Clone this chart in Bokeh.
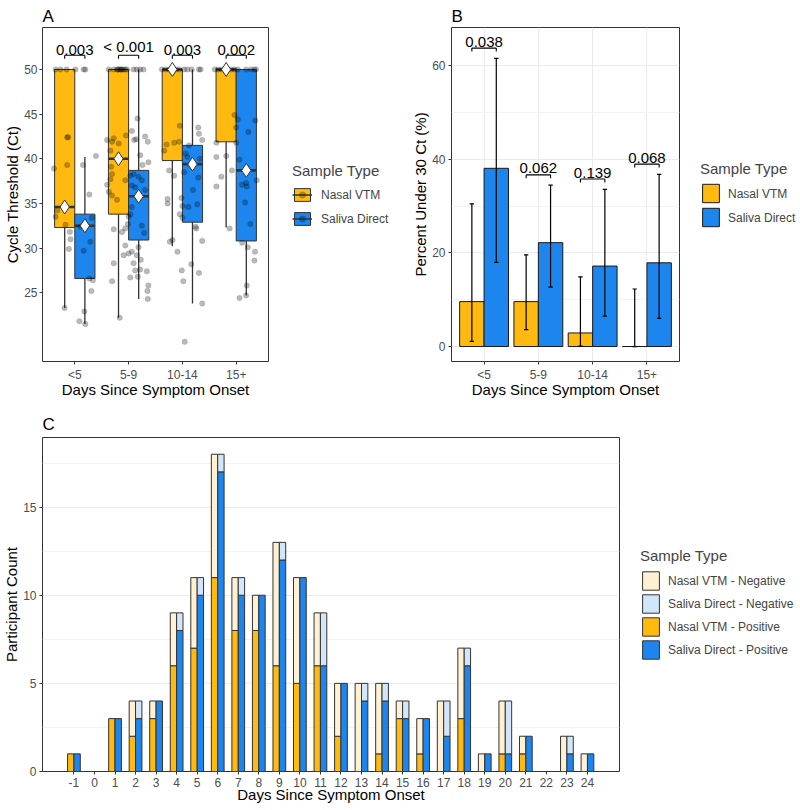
import numpy as np
from bokeh.plotting import figure
from bokeh.models import (Range1d, FixedTicker, Legend, LegendItem, ColumnDataSource)
from bokeh.layouts import column, row
from bokeh.core.properties import value
from bokeh.embed import file_html
from bokeh.resources import INLINE

FONT = "Liberation Sans"
ORANGE = "#FFB90F"
BLUE = "#1C86EE"
ORANGE_LIGHT = "#FFF1D2"
BLUE_LIGHT = "#D2E6FB"
EDGE = "#333333"

# ---------------- Panel A data ----------------
categories = ["<5", "5-9", "10-14", "15+"]
nasal_q1 = [32.3, 33.8, 39.8, 41.9]
nasal_med = [34.6, 40.0, 50.0, 50.0]
nasal_q3 = [50.0, 50.0, 50.0, 50.0]
nasal_lo = [23.3, 22.2, 30.2, 32.3]
nasal_hi = [50.0, 50.0, 50.0, 50.0]
nasal_mean = [34.6, 40.0, 50.0, 50.0]
saliva_q1 = [26.6, 30.9, 32.9, 30.8]
saliva_med = [32.5, 35.8, 39.4, 38.7]
saliva_q3 = [33.8, 38.7, 41.5, 50.0]
saliva_lo = [21.5, 24.3, 23.8, 24.7]
saliva_hi = [40.2, 50.0, 50.0, 50.0]
saliva_mean = [32.5, 35.8, 39.4, 38.7]
pvals_A = ["0.003", "< 0.001", "0.003", "0.002"]

# jittered observations (offset from category centre, Ct value)
jit_dx_lt5 = [-0.356, -0.264, -0.153, 0.012, 0.166, 0.196, -0.141, -0.125, -0.387, -0.141,
              0.393, 0.153, 0.27, -0.325, -0.356, -0.172, -0.092, -0.08, -0.11, 0.104,
              0.319, 0.288, 0.166, 0.27, 0.337, 0.307, -0.19, 0.178, 0.086, 0.196]
jit_ct_lt5 = [50, 50, 50, 50, 50, 50, 42.4, 42.4, 38.9, 39.3,
              40.3, 39.3, 36.0, 34.2, 33.5, 32.6, 31.8, 31.0, 29.9, 32.4,
              33.4, 30.7, 29.7, 26.6, 26.4, 25.2, 23.3, 22.9, 21.8, 21.5]
jit_dx_5_9 = [-0.368, -0.276, -0.215, -0.2, -0.184, -0.153, -0.138, -0.123, -0.092, -0.061,
              -0.031, 0.092, 0.153, 0.215, 0.276,
              0.166, 0.061, 0.104, 0.141, 0.307, 0.356, -0.399, -0.276, -0.307, -0.184,
              -0.049, -0.338, 0.215, 0.258, 0.368, -0.325, -0.307, -0.338, -0.399, -0.368,
              -0.307, -0.215, -0.061, 0.031, 0.092, 0.184, 0.061, 0.123, 0.246, 0.307,
              0.184, 0.061, 0.031, 0.0, 0.246, 0.288, -0.276, -0.123, -0.061, -0.012,
              -0.061, -0.092, 0.0, 0.061, 0.153, 0.227, 0.184, 0.092, 0.123, 0.215,
              0.338, 0.031, 0.172, -0.276, -0.307, 0.368, 0.35, 0.356, -0.166]
jit_ct_5_9 = [50, 50, 50, 50, 50, 50, 50, 50, 50, 50,
              50, 50, 50, 50, 50,
              44.5, 43.1, 42.1, 42.2, 42.5, 41.9, 42.1, 42.3, 41.9, 41.7,
              42.6, 40.9, 40.4, 39.3, 39.6, 39.1, 38.3, 37.7, 37.1, 36.3,
              35.9, 35.4, 37.6, 38.1, 38.3, 38.0, 37.0, 36.8, 37.6, 36.5,
              35.6, 34.6, 33.8, 33.5, 32.5, 31.7, 32.1, 31.8, 32.2, 32.7,
              30.3, 29.2, 29.4, 29.6, 29.2, 28.7, 30.1, 28.3, 27.5, 27.6,
              27.4, 26.7, 26.8, 28.3, 26.3, 25.8, 25.2, 24.3, 22.2]
jit_dx_10_14 = [-0.38, -0.307, -0.246, -0.184, -0.123, -0.061, 0.031, 0.092, 0.172, 0.307,
                0.338,
                0.295, 0.307, 0.368, -0.049, -0.295, -0.153, -0.061, -0.338, 0.123, 0.061,
                0.092, 0.326, -0.246, -0.153, 0.031, 0.295, 0.196, -0.276, -0.276, -0.018,
                0.0, 0.11, 0.276, -0.049, 0.0, 0.246, 0.258, 0.368, -0.233, -0.184,
                -0.092, 0.166, -0.012, 0.307, 0.018, 0.368, 0.043]
jit_ct_10_14 = [50, 50, 50, 50, 50, 50, 50, 50, 50, 50,
                50,
                43.5, 42.8, 42.1, 43.7, 41.6, 41.8, 41.9, 40.9, 41.5, 40.6,
                40.2, 40.0, 38.7, 38.1, 38.5, 37.9, 36.5, 35.5, 35.0, 35.6,
                34.7, 34.6, 34.9, 33.8, 33.4, 32.4, 32.2, 30.8, 30.7, 30.9,
                29.6, 28.2, 27.5, 27.2, 26.3, 23.8, 19.5]
jit_dx_15p = [-0.399, -0.338, -0.276, -0.184, -0.092, -0.031, 0.031, 0.184, 0.276, 0.338,
              0.368,
              -0.031, 0.031, 0.0, 0.356, 0.227, 0.0, -0.368, -0.368, -0.184, 0.061,
              -0.276, -0.08, -0.368, 0.38, 0.184, 0.196, 0.11, 0.166, -0.123, 0.264,
              0.11, 0.215, 0.35, 0.338, 0.196, 0.184, 0.061]
jit_ct_15p = [50, 50, 50, 50, 50, 50, 50, 50, 50, 50,
              50,
              44.9, 44.4, 43.5, 44.3, 43.0, 41.8, 41.8, 40.2, 40.3, 39.9,
              38.0, 38.7, 36.9, 37.6, 37.3, 36.9, 37.1, 35.1, 32.2, 32.7,
              30.6, 30.1, 29.6, 28.6, 25.8, 24.7, 24.4]

# ---------------- Panel B data ----------------
pct_nasal = [9.6, 9.6, 2.9, 0.0]
pct_nasal_lo = [1.1, 3.6, 0.1, 0.0]
pct_nasal_hi = [30.5, 19.6, 14.9, 12.3]
pct_saliva = [38.1, 22.2, 17.2, 17.9]
pct_saliva_lo = [18.0, 12.7, 6.5, 6.0]
pct_saliva_hi = [61.6, 34.5, 33.6, 36.8]
pvals_B = ["0.038", "0.062", "0.139", "0.068"]

# ---------------- Panel C data ----------------
days = list(range(-1, 25))
nasal_total = [1, 0, 3, 4, 4, 9, 11, 18, 11, 10, 13, 11, 9, 5, 5, 5, 4, 3, 4, 7, 1, 4, 2, 0, 2, 1]
nasal_pos = [1, 0, 3, 2, 3, 6, 7, 11, 8, 8, 6, 5, 6, 2, 0, 1, 3, 1, 0, 3, 0, 1, 1, 0, 0, 0]
saliva_total = [1, 0, 3, 4, 4, 9, 11, 18, 11, 10, 13, 11, 9, 5, 5, 5, 4, 3, 4, 7, 1, 4, 2, 0, 2, 1]
saliva_pos = [1, 0, 3, 3, 4, 8, 10, 17, 10, 10, 12, 11, 6, 5, 4, 4, 3, 3, 2, 6, 1, 1, 2, 0, 1, 1]

NAN = np.array([np.nan])


def style_fig(p):
    for ax in p.axis:
        ax.axis_line_color = None
        ax.major_tick_line_color = EDGE
        ax.major_tick_out = 3
        ax.major_tick_in = 0
        ax.minor_tick_line_color = None
        ax.major_label_text_font = FONT
        ax.major_label_text_font_size = "12px"
        ax.major_label_text_color = "#4D4D4D"
        ax.major_label_standoff = 2
        ax.axis_label_text_font = FONT
        ax.axis_label_text_font_size = "15px"
        ax.axis_label_text_font_style = "normal"
        ax.axis_label_text_color = "black"
        ax.axis_label_standoff = 0
    p.xaxis.major_label_standoff = 3
    p.xaxis.axis_label_standoff = -4
    p.outline_line_color = EDGE
    p.outline_line_width = 1
    p.outline_line_alpha = 1
    p.background_fill_color = "white"
    p.border_fill_color = "white"


def figure_base(w, h, bl, br, bt, bb, xr, yr):
    return figure(width=w, height=h, min_border_left=bl, min_border_right=br,
                  min_border_top=bt, min_border_bottom=bb, x_range=xr, y_range=yr,
                  output_backend="svg", toolbar_location=None, tools="")


def panel_title(p, text, offset, standoff):
    p.title.text = text
    p.title.align = "left"
    p.title.offset = offset
    p.title.standoff = standoff
    p.title.text_font = FONT
    p.title.text_font_size = "17px"
    p.title.text_font_style = "normal"
    p.title.text_color = "black"


def legend_figure(w, h, top, bottom):
    lf = figure(width=w, height=h, x_range=Range1d(0, 1), y_range=Range1d(0, 1),
                min_border_left=0, min_border_right=0, min_border_top=top, min_border_bottom=bottom,
                x_axis_location=None, y_axis_location=None,
                output_backend="svg", toolbar_location=None, tools="")
    lf.outline_line_color = None
    lf.grid.visible = False
    lf.background_fill_color = "white"
    lf.border_fill_color = "white"
    return lf


def add_legend(p, items, margin, glyph_w, glyph_h, spacing, padding, title_standoff, label_standoff):
    leg = Legend(items=items, location="center_left")
    leg.title = "Sample Type"
    leg.title_text_font = FONT
    leg.title_text_font_size = "15px"
    leg.title_text_font_style = "normal"
    leg.title_standoff = title_standoff
    leg.label_text_font = FONT
    leg.label_text_font_size = "12px"
    leg.label_height = glyph_h
    leg.glyph_width = glyph_w
    leg.glyph_height = glyph_h
    leg.spacing = spacing
    leg.padding = padding
    leg.margin = margin
    leg.label_standoff = label_standoff
    leg.border_line_color = None
    leg.background_fill_alpha = 0
    leg.click_policy = "none"
    p.add_layout(leg, "center")
    return leg


xs = np.arange(1, len(categories) + 1, dtype=float)
tick_overrides = {int(i): c for i, c in zip(xs, categories)}

# ====================== Panel A ======================
# frame 226 x 334 at (42, 27)
pA = figure_base(270, 401, 42, 2, 27, 40, Range1d(0.4, 4.6), Range1d(17.3, 54.7))
style_fig(pA)
panel_title(pA, "A", 0, 4)
pA.grid.visible = False
pA.xaxis.ticker = FixedTicker(ticks=list(xs))
pA.xaxis.major_label_overrides = tick_overrides
pA.yaxis.ticker = FixedTicker(ticks=[25, 30, 35, 40, 45, 50])
pA.xaxis.axis_label = "Days Since Symptom Onset"
pA.yaxis.axis_label = "Cycle Threshold (Ct)"

BW = 0.375
srcN = ColumnDataSource(dict(x=xs - BW / 2, left=xs - BW, right=xs, q1=nasal_q1, q3=nasal_q3,
                             med=nasal_med, lo=nasal_lo, hi=nasal_hi, mean=nasal_mean))
srcS = ColumnDataSource(dict(x=xs + BW / 2, left=xs, right=xs + BW, q1=saliva_q1, q3=saliva_q3,
                             med=saliva_med, lo=saliva_lo, hi=saliva_hi, mean=saliva_mean))
for src, col in [(srcN, ORANGE), (srcS, BLUE)]:
    pA.segment(x0="x", y0="lo", x1="x", y1="hi", source=src, line_color=EDGE, line_width=1.3)
    pA.quad(left="left", right="right", bottom="q1", top="q3", source=src,
            fill_color=col, line_color=EDGE, line_width=1)
    pA.segment(x0="left", y0="med", x1="right", y1="med", source=src,
               line_color=EDGE, line_width=2.6)

jit_dx = [jit_dx_lt5, jit_dx_5_9, jit_dx_10_14, jit_dx_15p]
jit_ct = [jit_ct_lt5, jit_ct_5_9, jit_ct_10_14, jit_ct_15p]
pt_x, pt_y = [], []
for c, dxs, cts in zip(xs, jit_dx, jit_ct):
    pt_x += [c + dd for dd in dxs]
    pt_y += list(cts)
PT_STYLE = dict(size=5.5, fill_color="black", fill_alpha=0.27, line_color="black", line_alpha=0.1)
pA.scatter(pt_x, pt_y, **PT_STYLE)

for src in (srcN, srcS):
    pA.scatter(x="x", y="mean", source=src, marker="diamond", size=14,
               fill_color="white", line_color=EDGE, line_width=1)

BR_A = 51.6
BR_TICK_A = 0.4
pA.segment(x0=xs - BW / 2, y0=[BR_A] * 4, x1=xs + BW / 2, y1=[BR_A] * 4, line_color="black", line_width=1.1)
pA.segment(x0=xs - BW / 2, y0=[BR_A] * 4, x1=xs - BW / 2, y1=[BR_A - BR_TICK_A] * 4, line_color="black", line_width=1.1)
pA.segment(x0=xs + BW / 2, y0=[BR_A] * 4, x1=xs + BW / 2, y1=[BR_A - BR_TICK_A] * 4, line_color="black", line_width=1.1)
pA.text(x=xs, y=[BR_A] * 4, text=pvals_A, text_font=value(FONT), text_font_size="15px",
        text_align="center", text_baseline="bottom", text_color="black")

# legend A (own canvas, x 270..400)
lA = legend_figure(130, 401, 27, 40)
items = []
for lab, col in [("Nasal VTM", ORANGE), ("Saliva Direct", BLUE)]:
    rb = lA.quad(left=NAN, right=NAN, bottom=NAN, top=NAN, fill_color=col, line_color=EDGE, line_width=1)
    rm = lA.segment(x0=NAN, y0=NAN, x1=NAN, y1=NAN, line_color=EDGE, line_width=1.5)
    rp = lA.scatter(NAN, NAN, **PT_STYLE)
    items.append(LegendItem(label=lab, renderers=[rb, rm, rp]))
add_legend(lA, items, 22, 20, 16, 8, 10, 8, 9)

# ====================== Panel B ======================
# frame 228 x 334 at (451, 27)
pB = figure_base(281, 401, 51, 2, 27, 40, Range1d(0.4, 4.6), Range1d(-3.2, 68.2))
style_fig(pB)
panel_title(pB, "B", 0, 4)
pB.xaxis.ticker = FixedTicker(ticks=list(xs))
pB.xaxis.major_label_overrides = tick_overrides
pB.yaxis.ticker = FixedTicker(ticks=[0, 20, 40, 60], minor_ticks=[10, 30, 50])
pB.xaxis.axis_label = "Days Since Symptom Onset"
pB.yaxis.axis_label = "Percent Under 30 Ct (%)"
pB.xgrid.grid_line_color = "#EBEBEB"
pB.ygrid.grid_line_color = "#EBEBEB"
pB.ygrid.minor_grid_line_color = "#F3F3F3"
pB.xgrid.ticker = FixedTicker(ticks=list(xs))

BWB = 0.45
pB.vbar(x=xs - BWB / 2, width=BWB, top=pct_nasal, bottom=0, fill_color=ORANGE,
        line_color="#1A1A1A", line_width=1)
pB.vbar(x=xs + BWB / 2, width=BWB, top=pct_saliva, bottom=0, fill_color=BLUE,
        line_color="#1A1A1A", line_width=1)
CAP = 0.04
for cx, lo, hi in [(xs - BWB / 2, pct_nasal_lo, pct_nasal_hi), (xs + BWB / 2, pct_saliva_lo, pct_saliva_hi)]:
    pB.segment(x0=cx, y0=lo, x1=cx, y1=hi, line_color="black", line_width=1.2)
    pB.segment(x0=cx - CAP, y0=lo, x1=cx + CAP, y1=lo, line_color="black", line_width=1.2)
    pB.segment(x0=cx - CAP, y0=hi, x1=cx + CAP, y1=hi, line_color="black", line_width=1.2)

br_B = np.maximum(pct_nasal_hi, pct_saliva_hi) + 2.2
BR_TICK_B = 0.75
pB.segment(x0=xs - BWB / 2, y0=br_B, x1=xs + BWB / 2, y1=br_B, line_color="black", line_width=1.1)
pB.segment(x0=xs - BWB / 2, y0=br_B, x1=xs - BWB / 2, y1=br_B - BR_TICK_B, line_color="black", line_width=1.1)
pB.segment(x0=xs + BWB / 2, y0=br_B, x1=xs + BWB / 2, y1=br_B - BR_TICK_B, line_color="black", line_width=1.1)
pB.text(x=xs, y=br_B + 0.3, text=pvals_B, text_font=value(FONT), text_font_size="15px",
        text_align="center", text_baseline="bottom", text_color="black")

# legend B (own canvas, x 681..800)
lB = legend_figure(119, 401, 27, 40)
items = []
for lab, col in [("Nasal VTM", ORANGE), ("Saliva Direct", BLUE)]:
    rb = lB.quad(left=NAN, right=NAN, bottom=NAN, top=NAN, fill_color=col, line_color="#1A1A1A", line_width=1)
    items.append(LegendItem(label=lab, renderers=[rb]))
add_legend(lB, items, 19, 21, 23, 1, 2, 5, 7)

# ====================== Panel C ======================
# frame 577 x 334 at (42, 437)
pC = figure_base(621, 408, 42, 2, 36, 38, Range1d(-2.53, 25.56), Range1d(0, 18.95))
style_fig(pC)
panel_title(pC, "C", 0, 8)
pC.xaxis.ticker = FixedTicker(ticks=days)
pC.xaxis.major_label_overrides = {dd: str(dd) for dd in days}
pC.yaxis.ticker = FixedTicker(ticks=[0, 5, 10, 15], minor_ticks=[2.5, 7.5, 12.5, 17.5])
pC.xaxis.axis_label = "Days Since Symptom Onset"
pC.yaxis.axis_label = "Participant Count"
pC.xgrid.visible = False
pC.ygrid.grid_line_color = "#EBEBEB"
pC.ygrid.minor_grid_line_color = "#F3F3F3"

CW = 0.31
dd_arr = np.array(days, dtype=float)
nt, npos = np.array(nasal_total, dtype=float), np.array(nasal_pos, dtype=float)
st, spos = np.array(saliva_total, dtype=float), np.array(saliva_pos, dtype=float)


def stack_quads(left, right, bottom, top, color):
    keep = top > bottom
    return pC.quad(left=left[keep], right=right[keep], bottom=bottom[keep], top=top[keep],
                   fill_color=color, line_color=EDGE, line_width=1)


stack_quads(dd_arr - CW, dd_arr, np.zeros_like(dd_arr), npos, ORANGE)
stack_quads(dd_arr - CW, dd_arr, npos, nt, ORANGE_LIGHT)
stack_quads(dd_arr, dd_arr + CW, np.zeros_like(dd_arr), spos, BLUE)
stack_quads(dd_arr, dd_arr + CW, spos, st, BLUE_LIGHT)

# legend C (own canvas, x 621..800)
lC = legend_figure(179, 408, 36, 38)
items = []
for lab, col in [("Nasal VTM - Negative", ORANGE_LIGHT), ("Saliva Direct - Negative", BLUE_LIGHT),
                 ("Nasal VTM - Positive", ORANGE), ("Saliva Direct - Positive", BLUE)]:
    rb = lC.quad(left=NAN, right=NAN, bottom=NAN, top=NAN, fill_color=col, line_color=EDGE, line_width=1)
    items.append(LegendItem(label=lab, renderers=[rb]))
add_legend(lC, items, 19, 21, 23, 0, 2, 5, 7)

layout = column(row(pA, lA, pB, lB), row(pC, lC))
open("out.html", "w").write(file_html(layout, INLINE, "Ct values by days since symptom onset"))
